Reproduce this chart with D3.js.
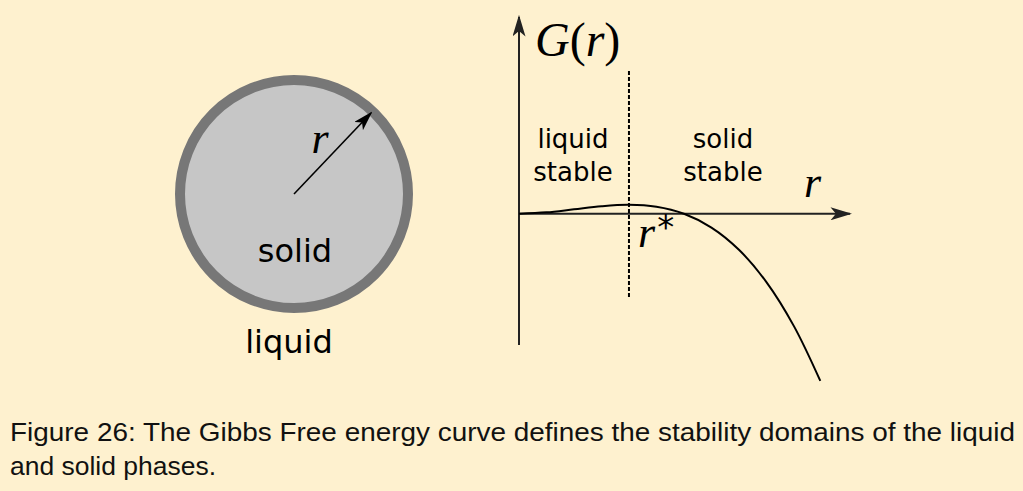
<!DOCTYPE html>
<html><head><meta charset="utf-8">
<script src="https://cdn.jsdelivr.net/npm/d3@7"></script>
<style>html,body{margin:0;padding:0;background:#fef1cf;}svg{display:block;}</style>
</head><body>
<svg id="c" width="1023" height="491"></svg>
<script>
// radius values (in units of r*) and Gibbs free energy
const rValues = [0, 0.25, 0.5, 0.75, 1.0, 1.25, 1.5, 1.75, 2.0, 2.25, 2.5, 2.74];
const gValues = [0, 0.16, 0.5, 0.84, 1.0, 0.78, 0, -1.53, -4.0, -7.6, -12.5, -18.6];
const rStar = 1.0;
const xDomain = [0, 3.01];
const yDomain = [-14.6, 21.9];
const regionLabels = [["liquid", "stable"], ["solid", "stable"]];
const captionLines = ["Figure 26: The Gibbs Free energy curve defines the stability domains of the liquid", "and solid phases."];

const svg = d3.select("#c");
svg.append("rect").attr("width", 1023).attr("height", 491).attr("fill", "#fef1cf");

const defs = svg.append("defs");
defs.append("marker").attr("id", "ah").attr("viewBox", "0 0 20 12").attr("refX", 18).attr("refY", 6)
  .attr("markerWidth", 20).attr("markerHeight", 12).attr("markerUnits", "userSpaceOnUse").attr("orient", "auto")
  .append("path").attr("d", "M0,0 L20,6 L0,12 L5,6 Z").attr("fill", "#000");
defs.append("marker").attr("id", "ah2").attr("viewBox", "0 0 20 12").attr("refX", 18).attr("refY", 6)
  .attr("markerWidth", 22).attr("markerHeight", 13).attr("markerUnits", "userSpaceOnUse").attr("orient", "auto")
  .append("path").attr("d", "M0,0 L20,6 L0,12 L5,6 Z").attr("fill", "#222");

// Left: circle
const cx = 294, cy = 194;
svg.append("circle").attr("cx", cx).attr("cy", cy).attr("r", 114)
  .attr("fill", "#c6c6c6").attr("stroke", "#777").attr("stroke-width", 10);
svg.append("line").attr("x1", cx).attr("y1", cy).attr("x2", 371).attr("y2", 113)
  .attr("stroke", "#000").attr("stroke-width", 1.6).attr("marker-end", "url(#ah)");
svg.append("text").attr("x", 320).attr("y", 153).attr("text-anchor", "middle")
  .attr("font-family", "Liberation Serif").attr("font-style", "italic").attr("font-size", 44).text("r");
svg.append("text").attr("x", 295).attr("y", 262).attr("text-anchor", "middle")
  .attr("font-family", "DejaVu Sans").attr("font-size", 32).text("solid");
svg.append("text").attr("x", 289).attr("y", 353).attr("text-anchor", "middle")
  .attr("font-family", "DejaVu Sans").attr("font-size", 32).text("liquid");

// Right: G(r)
const x = d3.scaleLinear().domain(xDomain).range([519, 850]);
const y = d3.scaleLinear().domain(yDomain).range([345, 17]);

svg.append("line").attr("x1", x(0)).attr("y1", y(yDomain[0])).attr("x2", x(0)).attr("y2", y(yDomain[1]))
  .attr("stroke", "#222").attr("stroke-width", 2).attr("marker-end", "url(#ah2)");
svg.append("line").attr("x1", x(0)).attr("y1", y(0)).attr("x2", x(xDomain[1])).attr("y2", y(0))
  .attr("stroke", "#222").attr("stroke-width", 2).attr("marker-end", "url(#ah2)");

svg.append("line").attr("x1", x(rStar)).attr("x2", x(rStar)).attr("y1", 71).attr("y2", 298)
  .attr("stroke", "#000").attr("stroke-width", 2).attr("stroke-dasharray", "4,2");

const line = d3.line().x(d => x(d[0])).y(d => y(d[1])).curve(d3.curveCatmullRom);
svg.append("path").datum(rValues.map((r, i) => [r, gValues[i]]))
  .attr("d", line).attr("fill", "none").attr("stroke", "#000").attr("stroke-width", 2);

const lblX = [573, 723];
regionLabels.forEach((ls, i) => {
  ls.forEach((t, j) => {
    svg.append("text").attr("x", lblX[i]).attr("y", 148 + j * 33).attr("text-anchor", "middle")
      .attr("font-family", "DejaVu Sans").attr("font-size", 26).text(t);
  });
});

svg.append("text").attr("x", 535).attr("y", 56).attr("font-family", "Liberation Serif").attr("font-size", 48)
  .html('<tspan font-style="italic">G</tspan>(<tspan font-style="italic">r</tspan>)');
svg.append("text").attr("x", 804).attr("y", 197).attr("font-family", "Liberation Serif").attr("font-style", "italic")
  .attr("font-size", 44).text("r");
svg.append("text").attr("x", 638).attr("y", 247).attr("font-family", "Liberation Serif").attr("font-size", 44)
  .html('<tspan font-style="italic">r</tspan><tspan dx="2" dy="-8" font-size="34" font-family="DejaVu Sans">*</tspan>');

captionLines.forEach((t, i) => {
  const tx = svg.append("text").attr("x", 10).attr("y", 441 + i * 34)
    .attr("font-family", "Liberation Sans").attr("font-size", 26).attr("fill", "#111").text(t);
  if (i === 0) tx.attr("textLength", 1005).attr("lengthAdjust", "spacingAndGlyphs");
  else tx.attr("textLength", 206).attr("lengthAdjust", "spacingAndGlyphs");
});
</script>
</body></html>
